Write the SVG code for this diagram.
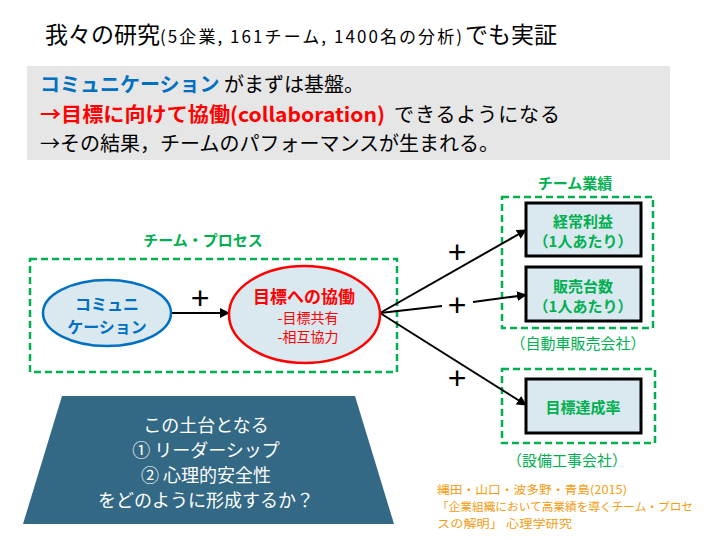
<svg xmlns="http://www.w3.org/2000/svg" width="720" height="540" viewBox="0 0 720 540">
<defs>
<style>
text{font-family:"Noto Sans CJK JP","Noto Sans",sans-serif;}
.dash{fill:none;stroke:#00b050;stroke-width:2.5;stroke-dasharray:7,4;}
.box{fill:#dae8f0;stroke:#000;stroke-width:3;}
.g{fill:#00b050;font-weight:bold;font-size:15px;text-anchor:middle;}
.gn{fill:#00b050;font-size:15px;text-anchor:middle;}
.conn{stroke:#000;stroke-width:2;fill:none;}
.plus{font-family:"Liberation Sans",sans-serif;font-size:32px;text-anchor:middle;fill:#000;}
.w{fill:#fff;font-size:18px;text-anchor:middle;}
.or{fill:#f39c12;font-size:11.5px;}
</style>
<marker id="ah" markerWidth="10" markerHeight="10" refX="9" refY="5" orient="auto" markerUnits="userSpaceOnUse" viewBox="0 0 10 10">
<path d="M0,0 L10,5 L0,10 z" fill="#000"/>
</marker>
</defs>
<rect width="720" height="540" fill="#fff"/>
<g id="title">
<text x="45" y="43" font-size="23" fill="#000">我々の研究</text>
<text x="160" y="43" font-size="17" fill="#000" textLength="302" lengthAdjust="spacing">(5企業, 161チーム, 1400名の分析)</text>
<text x="465" y="43" font-size="23" fill="#000">でも実証</text>
</g>
<g id="summary">
<rect x="27" y="66" width="643" height="94" fill="#e6e6e6"/>
<text x="40" y="92" font-size="20" fill="#000"><tspan fill="#0070c0" font-weight="bold">コミュニケーション</tspan> がまずは基盤。</text>
<text x="40" y="122" font-size="20" fill="#ff0000" font-weight="bold" textLength="345" lengthAdjust="spacingAndGlyphs">→目標に向けて協働(collaboration)</text>
<text x="394" y="122" font-size="20" fill="#000" textLength="166" lengthAdjust="spacing">できるようになる</text>
<text x="40" y="151" font-size="20" fill="#000">→その結果，チームのパフォーマンスが生まれる。</text>
</g>
<g id="process-group">
<text x="203" y="246" class="g">チーム・プロセス</text>
<rect x="30" y="259" width="367" height="113" class="dash"/>
</g>
<g id="perf-group">
<text x="575" y="189" class="g">チーム業績</text>
<rect x="502" y="197" width="151" height="131" class="dash"/>
<text x="578" y="349" class="gn">（自動車販売会社）</text>
</g>
<g id="const-group">
<rect x="502" y="369" width="153" height="74" class="dash"/>
<text x="567" y="466" class="gn">（設備工事会社）</text>
</g>
<g id="connectors">
<line x1="171" y1="313" x2="229" y2="313" class="conn" marker-end="url(#ah)"/>
<text x="200" y="309" class="plus">+</text>
<line x1="380" y1="313" x2="526" y2="230" class="conn" marker-end="url(#ah)"/>
<line x1="380" y1="313" x2="442" y2="306" class="conn"/>
<line x1="473" y1="302" x2="526" y2="295" class="conn" marker-end="url(#ah)"/>
<line x1="380" y1="313" x2="526" y2="405" class="conn" marker-end="url(#ah)"/>
<text x="457" y="263" class="plus">+</text>
<text x="457" y="316" class="plus">+</text>
<text x="457" y="389" class="plus">+</text>
</g>
<g id="comm">
<ellipse cx="107" cy="313" rx="64" ry="33" fill="#dae8f0" stroke="#0070c0" stroke-width="2.5"/>
<text x="107" y="310" fill="#0070c0" font-weight="bold" font-size="16" text-anchor="middle">コミュニ</text>
<text x="107" y="333" fill="#0070c0" font-weight="bold" font-size="16" text-anchor="middle">ケーション</text>
</g>
<g id="collab">
<ellipse cx="304.5" cy="314.5" rx="75.5" ry="48.5" fill="#dae8f0" stroke="#ff0000" stroke-width="2.5"/>
<text x="304" y="303" fill="#ff0000" font-weight="bold" font-size="17" text-anchor="middle">目標への協働</text>
<text x="308" y="323" fill="#ff0000" font-size="14" text-anchor="middle">-目標共有</text>
<text x="308" y="342" fill="#ff0000" font-size="14" text-anchor="middle">-相互協力</text>
</g>
<g id="profit">
<rect x="526" y="203" width="115" height="53" class="box"/>
<text x="583" y="227" class="g">経常利益</text>
<text x="583" y="247" class="g">（1人あたり）</text>
</g>
<g id="sales">
<rect x="526" y="267" width="115" height="54" class="box"/>
<text x="583" y="292" class="g">販売台数</text>
<text x="583" y="312" class="g">（1人あたり）</text>
</g>
<g id="goal">
<rect x="526" y="379" width="115" height="54" class="box"/>
<text x="583" y="413" class="g">目標達成率</text>
</g>
<g id="foundation">
<polygon points="62,396 355,396 394,524 23,524" fill="#336985"/>
<text x="206" y="432" class="w">この土台となる</text>
<text x="206" y="457" class="w">① リーダーシップ</text>
<text x="206" y="482" class="w">② 心理的安全性</text>
<text x="206" y="507" class="w">をどのように形成するか？</text>
</g>
<g id="citation">
<text x="437" y="494" class="or" textLength="190" lengthAdjust="spacingAndGlyphs">縄田・山口・波多野・青島(2015)</text>
<text x="437" y="511" class="or" textLength="256" lengthAdjust="spacingAndGlyphs">「企業組織において高業績を導くチーム・プロセ</text>
<text x="437" y="528" class="or" textLength="135" lengthAdjust="spacingAndGlyphs">スの解明」 心理学研究</text>
</g>
</svg>
